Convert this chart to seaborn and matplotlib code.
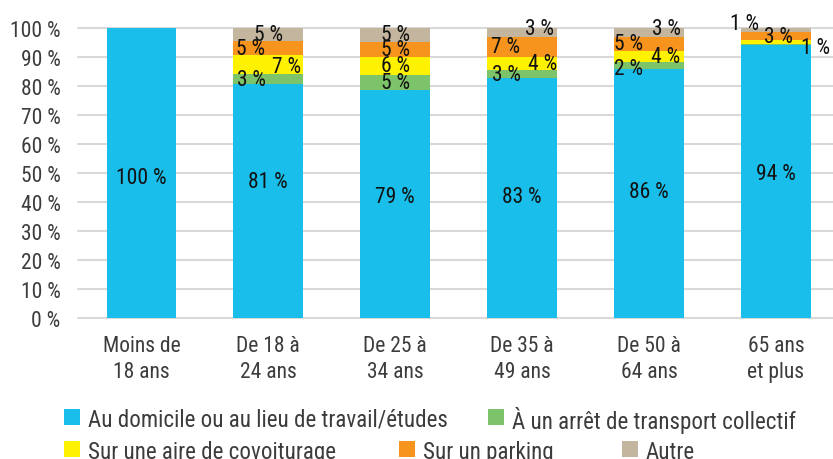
import numpy as np
import pandas as pd
import matplotlib
matplotlib.use("Agg")
import matplotlib.pyplot as plt
from matplotlib import font_manager
from matplotlib.patches import Rectangle
import seaborn as sns

# Age groups (x categories)
age_groups = ["Moins de\n18 ans", "De 18 à\n24 ans", "De 25 à\n34 ans",
              "De 35 à\n49 ans", "De 50 à\n64 ans", "65 ans\net plus"]

# Share of each parking location, in % (stacked bottom to top)
domicile = [100.0, 80.8, 78.7, 82.6, 85.9, 94.2]
arret = [0.0, 3.2, 5.1, 3.0, 2.4, 0.3]
covoiturage = [0.0, 6.6, 6.2, 4.4, 3.9, 1.4]
parking = [0.0, 4.8, 5.3, 7.0, 4.8, 2.6]
autre = [0.0, 4.6, 4.7, 3.0, 3.0, 1.4]

series_names = ["Au domicile ou au lieu de travail/études",
                "À un arrêt de transport collectif",
                "Sur une aire de covoiturage",
                "Sur un parking",
                "Autre"]

y_ticks = [0, 10, 20, 30, 40, 50, 60, 70, 80, 90, 100]

colors = ["#1abeea", "#7dc36a", "#fff200", "#f7941d", "#c4b59f"]

sns.set_theme(style="white")
available = {f.name for f in font_manager.fontManager.ttflist}
family = "DejaVu Sans"
for cand in ["Roboto Condensed", "Liberation Sans Narrow", "Roboto"]:
    if cand in available:
        family = cand
        break
plt.rcParams["font.family"] = [family, "DejaVu Sans"]

TICK_COLOR = "#3c3c3c"
FS = 15.5
FS_LEG = 16.6

fig = plt.figure(figsize=(8.33, 4.6), dpi=100)
ax = fig.add_axes([78 / 833, (460 - 319) / 460, (833 - 78) / 833, (319 - 29) / 460])

layers = np.array([domicile, arret, covoiturage, parking, autre])
cum = np.cumsum(layers, axis=0)
df = pd.DataFrame({"groupe": age_groups})
for i in range(len(layers)):
    df[f"cum{i}"] = cum[i]

# stacked bars: draw the running totals from the tallest down
for i in reversed(range(len(layers))):
    sns.barplot(data=df, x="groupe", y=f"cum{i}", order=age_groups,
                color=colors[i], saturation=1, width=0.55, linewidth=0, ax=ax)

ax.set_xlim(-0.5, 5.45)
ax.set_ylim(0, 100)
ax.set_yticks(y_ticks)
ax.set_yticklabels([f"{v} %" for v in y_ticks], fontsize=FS, color=TICK_COLOR)
ax.set_xticks(range(len(age_groups)))
ax.set_xticklabels(age_groups, fontsize=FS, color=TICK_COLOR, linespacing=1.32)
ax.tick_params(axis="y", length=0, pad=12.5)
ax.tick_params(axis="x", length=0, pad=12)
ax.set_xlabel("")
ax.set_ylabel("")
for s in ax.spines.values():
    s.set_visible(False)
ax.yaxis.grid(True, color="#d9d9d9", linewidth=1.5)
ax.set_axisbelow(True)
for gl in ax.get_ygridlines():
    gl.set_clip_on(False)

# label nudges (x in category units, y in %) for crowded segments
nudge = {
    (0, 0): (0, -1.4), (1, 0): (0, 6.8), (2, 0): (0, 2.6), (3, 0): (0, 0.7),
    (4, 0): (0, 0.8), (5, 0): (0, 2.6),
    (1, 1): (-0.13, 0), (1, 2): (0.14, -0.5), (1, 3): (-0.14, 0),
    (3, 1): (-0.12, 0), (3, 2): (0.16, 0), (3, 3): (-0.13, 0), (3, 4): (0.14, 1.4),
    (4, 1): (-0.16, -1.2), (4, 2): (0.13, 0), (4, 3): (-0.16, 0), (4, 4): (0.14, 1.2),
    (5, 2): (0.31, -1.8), (5, 3): (0.02, 0), (5, 4): (-0.25, 2.4),
}
for i in range(len(layers)):
    for j in range(len(age_groups)):
        v = layers[i, j]
        if v < 0.5:
            continue
        dx, dy = nudge.get((j, i), (0, 0))
        yc = cum[i, j] - v / 2 + dy
        ax.text(j + dx, yc, f"{int(round(v))} %", ha="center", va="center",
                fontsize=FS, color="#111111", clip_on=False)

# legend: coloured square + label, laid out on two rows
def legend_item(x, y, color, label):
    fig.patches.append(Rectangle((x / 833, 1 - (y + 8) / 460), 16 / 833, 16 / 460,
                                 transform=fig.transFigure, facecolor=color,
                                 edgecolor="none"))
    fig.text((x + 24) / 833, 1 - y / 460, label, fontsize=FS_LEG, color=TICK_COLOR,
             va="center_baseline", ha="left")

legend_item(64, 418, colors[0], series_names[0])
legend_item(488, 418, colors[1], series_names[1])
legend_item(64, 450, colors[2], series_names[2])
legend_item(399, 450, colors[3], series_names[3])
legend_item(622, 450, colors[4], series_names[4])

fig.savefig("out.png", dpi=100)
